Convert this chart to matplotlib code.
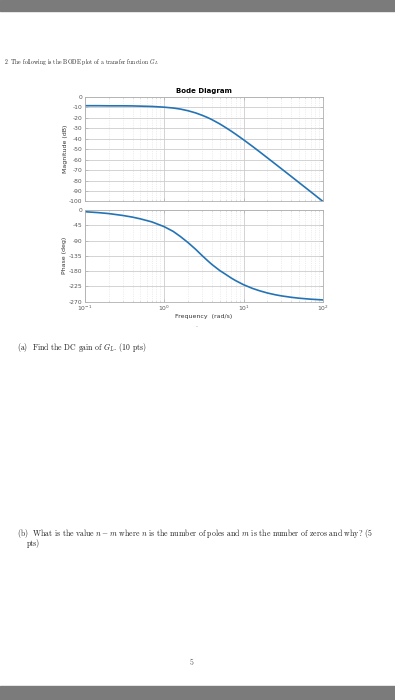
import matplotlib
matplotlib.use('Agg')
import matplotlib.pyplot as plt
from matplotlib.patches import Rectangle
from matplotlib.ticker import LogLocator, NullFormatter

# values
freq = [0.1, 0.15, 0.2, 0.3, 0.4, 0.5, 0.7, 1.0, 1.3, 1.6, 2.0, 2.5, 3.0, 3.5,
        4.0, 5.0, 6.0, 7.0, 8.0, 10.0, 13.0, 16.0, 20.0, 25.0, 30.0, 40.0,
        50.0, 70.0, 100.0]
mag_db = [-8.6, -8.6, -8.7, -8.7, -8.8, -9.0, -9.3, -10.0, -10.8, -11.8, -13.4,
          -15.5, -17.7, -19.8, -21.9, -25.9, -29.6, -32.9, -35.9, -41.1, -47.5,
          -52.7, -58.4, -64.1, -68.8, -76.2, -82.0, -90.7, -100.0]
phase_deg = [-5.0, -7.8, -10.5, -16.0, -21.0, -26.0, -35.0, -49.0, -63.0, -78.0,
             -96.0, -116.0, -134.0, -148.5, -160.5, -178.0, -190.0, -200.4,
             -208.3, -220.0, -231.0, -238.0, -244.4, -249.5, -252.9, -257.1,
             -259.7, -262.6, -264.8]

mag_ticks = [0, -10, -20, -30, -40, -50, -60, -70, -80, -90, -100]
phase_ticks = [0, -45, -90, -135, -180, -225, -270]

plt.rcParams['axes.unicode_minus'] = False
plt.rcParams['mathtext.fontset'] = 'cm'

W, H = 395, 700
fig = plt.figure(figsize=(W / 100, H / 100), dpi=100)
fig.patch.set_facecolor('white')

# grey bars of the page viewer
fig.patches.append(Rectangle((0, 1 - 11 / H), 1, 11 / H, transform=fig.transFigure,
                             color='#7b7b7b', zorder=0))
fig.patches.append(Rectangle((0, 0), 1, 14 / H, transform=fig.transFigure,
                             color='#7b7b7b', zorder=0))

line_c = '#2473b5'
tick_c = '#555555'


def style_axes(ax):
    ax.set_xscale('log')
    ax.set_xlim(0.1, 100)
    ax.xaxis.set_minor_locator(LogLocator(base=10, subs=range(2, 10)))
    ax.xaxis.set_minor_formatter(NullFormatter())
    ax.grid(True, which='major', color='#cccccc', lw=0.6)
    ax.grid(True, which='minor', axis='x', color='#dddddd', lw=0.5, ls=':')
    for s in ax.spines.values():
        s.set_color('#b0b0b0')
        s.set_linewidth(0.6)
    ax.tick_params(which='both', direction='in', top=True, right=True,
                   colors='#b0b0b0', labelcolor=tick_c, labelsize=4.3,
                   length=2, width=0.5, pad=1.5)
    ax.tick_params(which='minor', length=1)
    ax.set_axisbelow(True)


ax1 = fig.add_axes([84.7 / W, 1 - 201.5 / H, (323 - 84.7) / W, (201.5 - 96.7) / H])
ax1.plot(freq, mag_db, color=line_c, lw=1.2)
ax1.set_ylim(-100, 0)
ax1.set_yticks(mag_ticks)
style_axes(ax1)
ax1.tick_params(labelbottom=False)
ax1.set_ylabel('Magnitude (dB)', fontsize=4.5, color='#333333', labelpad=1)
ax1.set_title('Bode Diagram', fontsize=5, fontweight='bold', pad=3)

ax2 = fig.add_axes([84.7 / W, 1 - 301.7 / H, (323 - 84.7) / W, (301.7 - 210) / H])
ax2.plot(freq, phase_deg, color=line_c, lw=1.2)
ax2.set_ylim(-270, 0)
ax2.set_yticks(phase_ticks)
style_axes(ax2)
ax2.set_ylabel('Phase (deg)', fontsize=4.5, color='#333333', labelpad=1)
ax2.set_xlabel('Frequency  (rad/s)', fontsize=4.5, color='#333333', labelpad=1)

serif = 'cmr10'
txt_c = '#222222'
fig.text(4 / W, 1 - 62 / H, r'2. The following is the BODE plot of a transfer function $G_L$',
         fontsize=4.2, family=serif, va='center', color=txt_c)
fig.text(17 / W, 1 - 348 / H, r'(a)  Find the DC gain of $G_L$. (10 pts)',
         fontsize=5.6, family=serif, va='center', color=txt_c)
fig.text(17 / W, 1 - 533 / H,
         r'(b)  What is the value $n-m$ where $n$ is the number of poles and $m$ is the number of zeros and why? (5',
         fontsize=5.6, family=serif, va='center', color=txt_c)
fig.text(27 / W, 1 - 543 / H, 'pts)', fontsize=5.6, family=serif, va='center', color=txt_c)
fig.text(190 / W, 1 - 663 / H, '5', fontsize=5.6, family=serif, va='center', color='#555555')
fig.text(196 / W, 1 - 327 / H, '-', fontsize=4, va='center', color='#7a9cc8')

fig.savefig('out.png', dpi=100)
